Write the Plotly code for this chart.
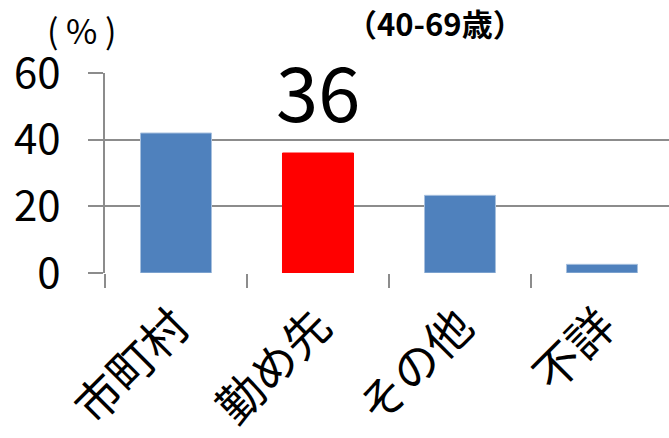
import plotly.graph_objects as go

categories = ["市町村", "勤め先", "その他", "不詳"]
values = [42, 36, 23.3, 2.6]
colors = ["#4F81BD", "#FF0000", "#4F81BD", "#4F81BD"]
line_colors = ["#A7C0DE", "#FF0000", "#A7C0DE", "#A7C0DE"]
y_ticks = [0, 20, 40, 60]
title_text = "（40-69歳）"
unit_text = "( % )"
highlight_label = "36"

FONT = "Noto Sans CJK JP"

fig = go.Figure()
fig.add_trace(go.Bar(
    x=categories, y=values,
    marker=dict(color=colors, line=dict(color=line_colors, width=1)),
    width=0.5,
))

fig.add_annotation(
    x=categories[1], y=values[1], xref="x", yref="y",
    text=highlight_label, showarrow=False,
    yanchor="bottom", yshift=7,
    font=dict(family=FONT, size=76, color="black"),
)
fig.add_annotation(
    x=435, y=22, text="<b>" + title_text + "</b>",
    showarrow=False, font=dict(family=FONT, size=31, color="black"),
)
fig.add_annotation(
    x=82, y=30, text=unit_text, showarrow=False,
    font=dict(family=FONT, size=34, color="black"),
)
W, H = 669, 438
ml, mr, mt, mb = 105, 0, 73, 165
for ann in list(fig.layout.annotations)[1:]:
    px, py = ann.x, ann.y
    ann.xref = "paper"; ann.yref = "paper"
    ann.x = (px - ml) / (W - ml - mr)
    ann.y = (H - mb - py) / (H - mt - mb)
    ann.xanchor = "center"; ann.yanchor = "middle"

fig.update_layout(
    width=W, height=H,
    margin=dict(l=ml, r=mr, t=mt, b=mb, pad=0),
    plot_bgcolor="white", paper_bgcolor="white",
    showlegend=False,
    font=dict(family=FONT, color="black"),
    bargap=0.5,
)
fig.update_xaxes(
    type="category", range=[-0.5, 3.472], automargin=False,
    tickson="boundaries", ticks="outside", ticklen=14, tickwidth=2, tickcolor="#8C8C8C",
    showline=False, showgrid=False, zeroline=False,
    tickangle=-45, tickfont=dict(family=FONT, size=46, color="black"),
    ticklabelstandoff=16,
)
fig.update_yaxes(
    range=[0, 60], tickvals=y_ticks, ticks="outside", ticklen=15, tickwidth=2,
    tickcolor="#8C8C8C", showgrid=True, gridcolor="#8C8C8C", gridwidth=2,
    showline=True, linecolor="#8C8C8C", linewidth=2, zeroline=False, automargin=False,
    tickfont=dict(family=FONT, size=42, color="black"), ticklabelstandoff=19,
)

fig.write_html("out.html")
